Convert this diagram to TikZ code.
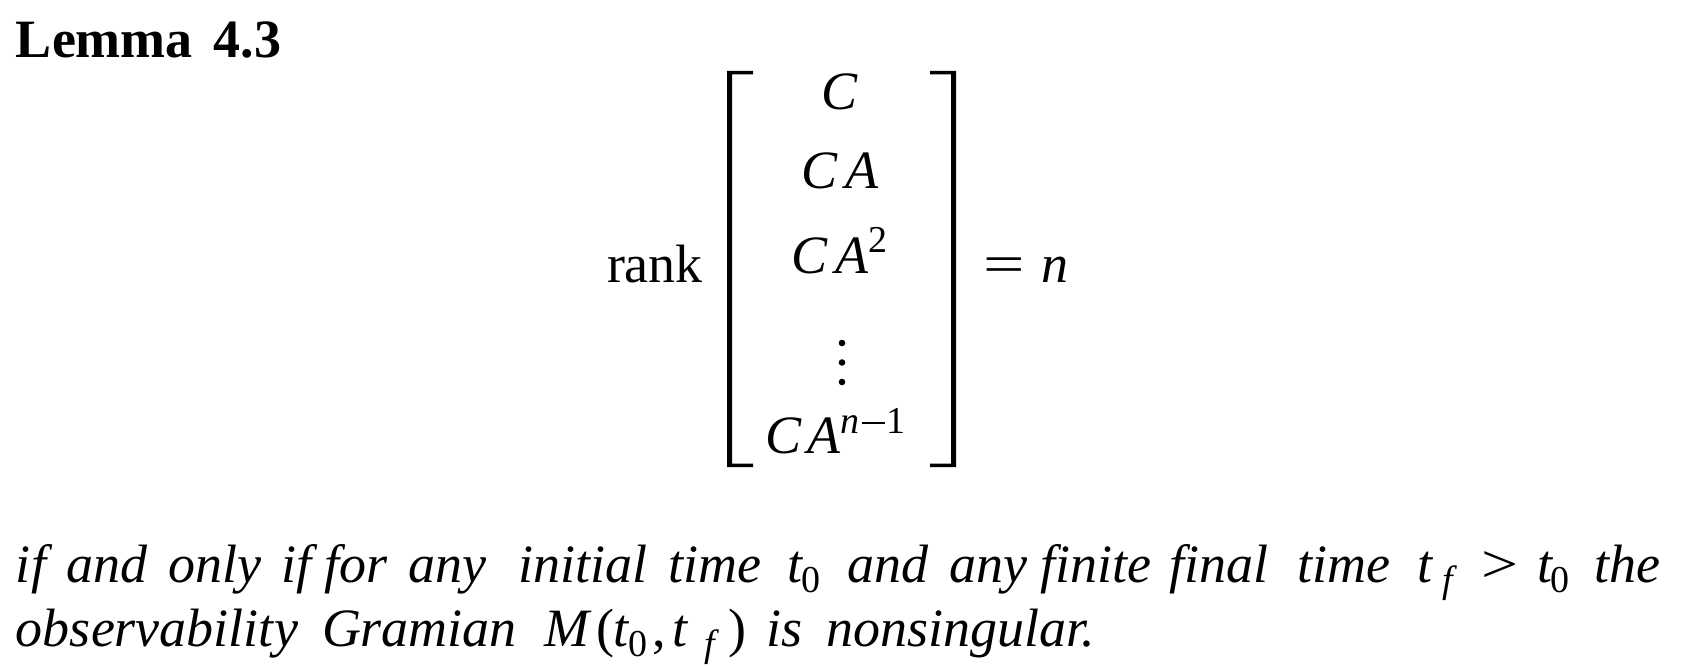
\documentclass[tikz,border=0pt]{standalone}
\usepackage{fontspec}
\setmainfont{Liberation Serif}[ItalicFont={Liberation Serif Italic}, BoldFont={Liberation Serif Bold}]
\newcommand{\bigtext}{\fontsize{54}{60}\selectfont}
\newcommand{\smalltext}{\fontsize{38}{40}\selectfont}
\newcommand{\mysup}[1]{\raisebox{21pt}{\smalltext #1}}
\tikzset{
  txt/.style={anchor=base west, inner sep=0pt, outer sep=0pt, font=\bigtext},
  itx/.style={txt, font=\bigtext\itshape},
  sub/.style={anchor=base west, inner sep=0pt, outer sep=0pt, font=\smalltext},
  isub/.style={sub, font=\smalltext\itshape},
  ent/.style={anchor=base west, inner sep=0pt, outer sep=0pt, font=\bigtext\itshape},
  brk/.style={fill=black, draw=none}
}
\begin{document}
\begin{tikzpicture}[x=1pt,y=-1pt]
\useasboundingbox (0,0) rectangle (1681,666);
% heading
\node[txt, font=\fontsize{54}{60}\selectfont\bfseries] (lemma) at (16,58) {Lemma\hspace{21pt}4.3};
% matrix
\node[txt] (rank) at (607,282) {rank};
\fill[brk] (727,71) -- (753,71) -- (753,74.5) -- (732,74.5) -- (732,463.5) -- (753,463.5) -- (753,467) -- (727,467) -- cycle;
\fill[brk] (956,71) -- (930,71) -- (930,74.5) -- (951,74.5) -- (951,463.5) -- (930,463.5) -- (930,467) -- (956,467) -- cycle;
\node[ent] (r1) at (821,110) {C};
\node[ent] (r2) at (801,188) {C\kern8.5pt A};
\node[ent] (r3) at (791,273) {C\kern8pt A\kern0pt\mysup{\upshape 2}};
\fill (842,343) circle (3.3) (842,362.5) circle (3.3) (842,382) circle (3.3);
\node[ent] (r5) at (765,453) {C\kern6pt A\kern0pt\raisebox{20pt}{\smalltext n\upshape\kern2.5pt\raisebox{9pt}{\rule{23pt}{2.3pt}}\kern2pt 1}};
\node[txt] (eq) at (983,282) {\resizebox{41.5pt}{\height}{=}};
\node[itx] (n) at (1041,282) {n};
% line 1
\node[itx] (w1) at (16,582) {if};
\node[itx] (w2) at (66,582) {and};
\node[itx] (w3) at (168,582) {only};
\node[itx] (w4) at (281,582) {if for};
\node[itx] (w5) at (408,582) {any};
\node[itx] (w6) at (518,582) {initial};
\node[itx] (w7) at (668,582) {time};
\node[itx] (w8) at (787,582) {t};
\node[sub] (w8s) at (801,592) {0};
\node[itx] (w9) at (847,582) {and};
\node[itx] (w10) at (949,582) {any};
\node[itx] (w11) at (1040,582) {finite};
\node[itx] (w12) at (1169,582) {final};
\node[itx] (w13) at (1297,582) {time};
\node[itx] (w14) at (1417,582) {t};
\node[isub] (w14s) at (1442,592) {f};
\node[txt] (w15) at (1481,582) {\resizebox{37pt}{\height}{>}};
\node[itx] (w16) at (1537,582) {t};
\node[sub] (w16s) at (1550,592) {0};
\node[itx] (w17) at (1594,582) {the};
% line 2
\node[itx] (v1) at (16,646) {observability};
\node[itx] (v2) at (322,646) {Gramian};
\node[itx] (v3a) at (544,646) {M};
\node[txt] (v3b) at (596,646) {(};
\node[itx] (v3c) at (613,646) {t};
\node[sub] (v3d) at (628,656) {0};
\node[txt] (v3e) at (652,646) {,};
\node[itx] (v3f) at (672,646) {t};
\node[isub] (v3g) at (704,656) {f};
\node[txt] (v3h) at (728,646) {)};
\node[itx] (v4) at (766,646) {is};
\node[itx] (v5) at (826,646) {nonsingular.};
\end{tikzpicture}
\end{document}
